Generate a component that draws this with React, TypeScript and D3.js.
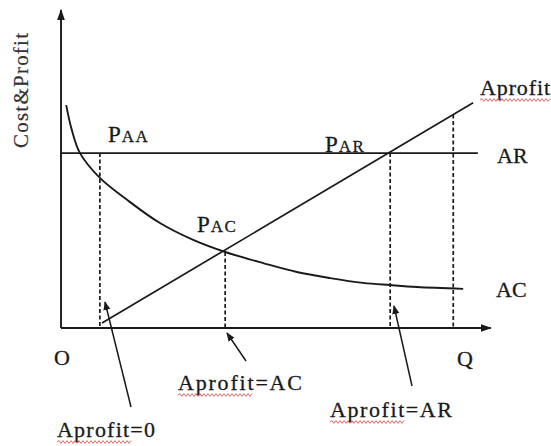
import React from "react";
import * as d3 from "d3";

// Curve readings (Q units 0..10 along x, cost/profit units 0..10 along y)
const acQ = [0.12, 0.25, 0.44, 0.9, 1.53, 2.29, 3.06, 3.8, 4.68, 5.46, 6.23, 6.99, 7.62, 8.24, 9.31];
const acCost = [7.01, 6.23, 5.5, 4.72, 4.03, 3.3, 2.77, 2.39, 2.04, 1.76, 1.57, 1.42, 1.35, 1.29, 1.23];

const arLevel = 5.5;
const arQ = [0, 9.65];

const profitQ = [0.95, 9.54];
const profitValue = [0.16, 7.08];

// dashed drop lines: Q and top value
const dropQ = [0.9, 3.8, 7.62, 9.08];
const dropTop = [5.5, 2.39, 5.5, 6.71];

const width = 551;
const height = 446;

const ink = "#1a1a1a";
const font = "'Liberation Serif', 'Times New Roman', serif";

const x = d3.scaleLinear().domain([0, 10]).range([61, 493]);
const y = d3.scaleLinear().domain([0, 10]).range([328, 10]);

function wavy(x0: number, x1: number, yy: number) {
  const p = d3.path();
  p.moveTo(x0, yy);
  let up = true;
  for (let xx = x0 + 2; xx <= x1; xx += 2) {
    p.lineTo(xx, yy + (up ? -1.4 : 1.4));
    up = !up;
  }
  return p.toString();
}

function Label({ tx, ty, text, size = 22, len, underline }: any) {
  return (
    <g>
      <text x={tx} y={ty} fontSize={size} fontFamily={font} fill={ink} stroke={ink} strokeWidth={0.3}
        textLength={len} lengthAdjust="spacing">{text}</text>
      {underline && (
        <path d={wavy(underline[0], underline[1], ty + 5)} fill="none" stroke="#e06a6a" strokeWidth={1} />
      )}
    </g>
  );
}

function SmallCaps({ tx, ty, big, small }: any) {
  return (
    <text x={tx} y={ty} fontFamily={font} fill={ink} stroke={ink} strokeWidth={0.3}>
      <tspan fontSize={23}>{big}</tspan>
      <tspan fontSize={17} dx={1} letterSpacing={1.5}>{small}</tspan>
    </text>
  );
}

export default function App() {
  const acLine = d3.line<number>()
    .x((d, i) => x(acQ[i]))
    .y((d) => y(d))
    .curve(d3.curveCatmullRom);

  const profitLine = d3.line<number>()
    .x((d, i) => x(profitQ[i]))
    .y((d) => y(d));

  return (
    <svg width={width} height={height} style={{ position: "absolute", left: 0, top: 0, background: "#fff" }}>
      <defs>
        <marker id="tip" viewBox="0 0 10 10" refX="9" refY="5" markerWidth="9" markerHeight="9"
          markerUnits="userSpaceOnUse" orient="auto">
          <path d="M0,1 L10,5 L0,9 Z" fill={ink} />
        </marker>
        <marker id="axisTip" viewBox="0 0 10 10" refX="9" refY="5" markerWidth="11" markerHeight="11"
          markerUnits="userSpaceOnUse" orient="auto">
          <path d="M0,1.5 L10,5 L0,8.5 Z" fill={ink} />
        </marker>
      </defs>

      {/* axes */}
      <line x1={x(0)} y1={y(0)} x2={x(0)} y2={y(10)} stroke={ink} strokeWidth={1.9} markerEnd="url(#axisTip)" />
      <line x1={x(0)} y1={y(0)} x2={x(9.95)} y2={y(0)} stroke={ink} strokeWidth={1.9} markerEnd="url(#axisTip)" />

      {/* dashed drop lines */}
      {dropQ.map((q, i) => (
        <line key={i} x1={x(q)} y1={y(dropTop[i])} x2={x(q)} y2={y(0)}
          stroke={ink} strokeWidth={1.7} strokeDasharray="4,2.5" />
      ))}

      {/* AR */}
      <line x1={x(arQ[0])} y1={y(arLevel)} x2={x(arQ[1])} y2={y(arLevel)} stroke={ink} strokeWidth={1.9} />

      {/* AC */}
      <path d={acLine(acCost) || ""} fill="none" stroke={ink} strokeWidth={1.9} />

      {/* Aprofit */}
      <path d={profitLine(profitValue) || ""} fill="none" stroke={ink} strokeWidth={1.7} />

      {/* annotation arrows */}
      <line x1={131} y1={407} x2={105} y2={302} stroke={ink} strokeWidth={1.5} markerEnd="url(#tip)" />
      <line x1={246} y1={361} x2={227} y2={333} stroke={ink} strokeWidth={1.5} markerEnd="url(#tip)" />
      <line x1={412} y1={386} x2={394} y2={306} stroke={ink} strokeWidth={1.5} markerEnd="url(#tip)" />

      {/* labels */}
      <text transform="translate(28,148) rotate(-90)" fontSize={21} fontFamily={font} fill="#333"
        stroke="#333" strokeWidth={0.2} textLength={115} lengthAdjust="spacing">Cost&amp;Profit</text>

      <SmallCaps tx={108} ty={142} big="P" small="AA" />
      <SmallCaps tx={197} ty={232} big="P" small="AC" />
      <SmallCaps tx={325} ty={152} big="P" small="AR" />

      <Label tx={497} ty={163} text="AR" />
      <Label tx={496} ty={297} text="AC" />
      <Label tx={457} ty={366} text="Q" />
      <Label tx={54} ty={365} text="O" />

      <Label tx={480} ty={95} text="Aprofit" len={70} underline={[480, 551]} />
      <Label tx={178} ty={390} text="Aprofit=AC" len={124} underline={[178, 253]} />
      <Label tx={330} ty={417} text="Aprofit=AR" len={122} underline={[330, 405]} />
      <Label tx={57} ty={437} text="Aprofit=0" len={98} underline={[57, 132]} />
    </svg>
  );
}
